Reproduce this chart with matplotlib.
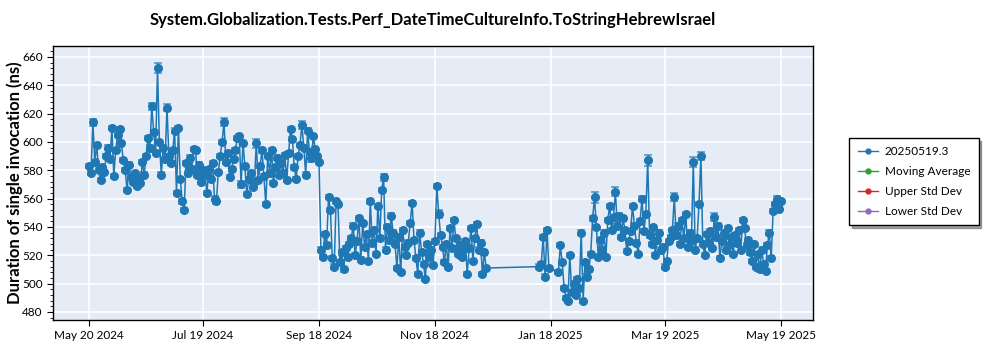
import numpy as np
import pandas as pd
import matplotlib.pyplot as plt
import matplotlib.dates as mdates
from matplotlib.ticker import MultipleLocator
from matplotlib.lines import Line2D

plt.rcParams['font.family'] = ['Lato', 'DejaVu Sans']

# Daily mean durations (ns), first block starts 2024-05-20
start_a = '2024-05-20'
values_a = [
    583, 578, 614, 586, 598, 580, 573, 582, 579, 590,
    596, 588, 610, 576, 594, 605, 609, 599, 587, 580,
    566, 584, 575, 572, 578, 569, 574, 571, 586, 577,
    590, 603, 596, 625, 607, 592, 652, 600, 577, 596,
    588, 624, 590, 585, 594, 608, 564, 610, 574, 558,
    552, 585, 578, 589, 581, 595, 594, 577, 584, 572,
    580, 577, 564, 581, 574, 585, 560, 558, 579, 590,
    600, 614, 586, 592, 575, 581, 588, 594, 603, 604,
    570, 599, 583, 563, 574, 578, 568, 572, 599, 573,
    583, 594, 576, 556, 590, 578, 594, 571, 582, 589,
    577, 585, 578, 591, 573, 592, 609, 602, 582, 574,
    590, 598, 612, 596, 577, 608, 593, 589, 604, 595,
    590, 586, 524, 519, 535, 527, 561, 552, 518, 512,
    558, 556, 515, 522, 510, 525, 519, 528, 532, 541,
    520, 530, 546, 517, 543, 526, 535, 516, 558, 529,
    538, 521, 555, 532, 566, 575, 524, 540, 531, 548,
    536, 528, 511, 533, 508, 538, 526, 520, 529, 543,
    557, 531, 518, 507, 536, 522, 514, 503, 528, 519,
    524, 513, 530, 569, 549, 534, 526, 515, 528, 512,
    539, 525, 545, 532, 521, 527, 519, 524, 530, 507,
    525, 539, 516, 532, 542, 524, 529, 507, 522, 511,
]

# Second block starts 2025-01-12 (None = no run that day)
start_b = '2025-01-12'
values_b = [
    512, 514, 533, 505, 538, 511,
    None, None, None, None,
    508, 527, 515, 497, 490, 488, 520, 494, 500, 492,
    503, 497, 536, 488, 515, 505, 510, 521, 546, 561,
    540, 519, 531, 524, 536, 519, 545, 555, 538, 547,
    565, 541, 548, 533, 546, 538, 523, 530,
    537, 555, 541, 529, 521, 544, 560, 537, 549, 587,
    534, 528, 540, 520, 531, 536, 524, 526, 512, 516,
    530, 533, 538, 561, 534, 541, 528, 545, 532, 549, 526,
    536, 530, 586, 524, 532, 556, 590, 528, 520, 535,
    529, 537, 525, 547, 533, 541, 518, 530, 536, 524,
    539, 527, 533, 521, 534, 529, 538, 524, 545, 539,
    527, 531, 522, 516, 528, 512, 521, 510, 524, 514,
    509, 527, 536, 518, 551, 556, 560, 553, 558,
]

# Wider spread on the noisy runs
big_errors = {
    '2024-05-22': 2.5, '2024-06-22': 2.5, '2024-06-25': 3.5, '2024-06-30': 2.5,
    '2024-07-30': 3.0, '2024-08-08': 2.5, '2024-08-16': 3.0, '2024-09-14': 3.5,
    '2024-09-09': 3.0, '2024-10-22': 2.5, '2024-11-20': 3.0, '2025-02-10': 4.0,
    '2025-02-21': 3.0, '2025-03-10': 4.0, '2025-03-24': 3.0, '2025-04-03': 3.5,
    '2025-04-07': 3.0, '2025-04-14': 2.5,
}

dates = list(pd.date_range(start_a, periods=len(values_a))) + \
    list(pd.date_range(start_b, periods=len(values_b)))
vals = values_a + values_b
df = pd.DataFrame({'date': dates, 'value': vals}).dropna()
df['err'] = [big_errors.get(d.strftime('%Y-%m-%d'), 1.5) for d in df['date']]

fig = plt.figure(figsize=(10, 3.5), dpi=100)
ax = fig.add_axes([0.053, 0.086, 0.76, 0.783])
ax.set_facecolor('#E5ECF6')

blue = '#1f77b4'
ax.errorbar(df['date'], df['value'].astype(float), yerr=df['err'],
            color=blue, ecolor=(0.12, 0.47, 0.71, 0.6), elinewidth=1.5,
            capsize=3, capthick=1.4, linewidth=1.1, marker='o', markersize=5.5,
            zorder=3)

ax.set_xlim(pd.Timestamp('2024-05-01'), pd.Timestamp('2025-06-05'))
ax.set_ylim(474.4, 667.8)

ticks = pd.to_datetime(['2024-05-20', '2024-07-19', '2024-09-18', '2024-11-18',
                        '2025-01-18', '2025-03-19', '2025-05-19'])
ax.set_xticks(ticks)
ax.xaxis.set_major_formatter(mdates.DateFormatter('%b %d %Y'))
ax.yaxis.set_major_locator(MultipleLocator(20))
ax.yaxis.set_minor_locator(MultipleLocator(4))
ax.tick_params(axis='both', labelsize=8.5, length=4)
ax.tick_params(axis='y', which='minor', length=2)
ax.grid(True, color='white', linewidth=1.2)
ax.set_axisbelow(True)
for s in ax.spines.values():
    s.set_color('black')
    s.set_linewidth(1)

ax.set_ylabel('Duration of single invocation (ns)', fontsize=12, fontweight='bold')
ax.yaxis.set_label_coords(-0.04, 0.5)
fig.suptitle('System.Globalization.Tests.Perf_DateTimeCultureInfo.ToStringHebrewIsrael',
             x=0.433, y=0.965, fontsize=12, fontweight='bold')

handles = [
    Line2D([], [], color='tab:blue', marker='o', markersize=3.5, linewidth=1),
    Line2D([], [], color='tab:green', marker='o', markersize=3.5, linewidth=1),
    Line2D([], [], color='tab:red', marker='o', markersize=3.5, linewidth=1),
    Line2D([], [], color='tab:purple', marker='o', markersize=3.5, linewidth=1),
]
labels = ['20250519.3', 'Moving Average', 'Upper Std Dev', 'Lower Std Dev']
leg = ax.legend(handles, labels, loc='center left', bbox_to_anchor=(1.04, 0.505),
                fontsize=8.5, frameon=True, fancybox=False, shadow=True,
                handlelength=1.7, handletextpad=0.6, borderpad=0.7,
                labelspacing=0.75)
leg.get_frame().set_edgecolor('black')

fig.savefig('out.png', dpi=100)
